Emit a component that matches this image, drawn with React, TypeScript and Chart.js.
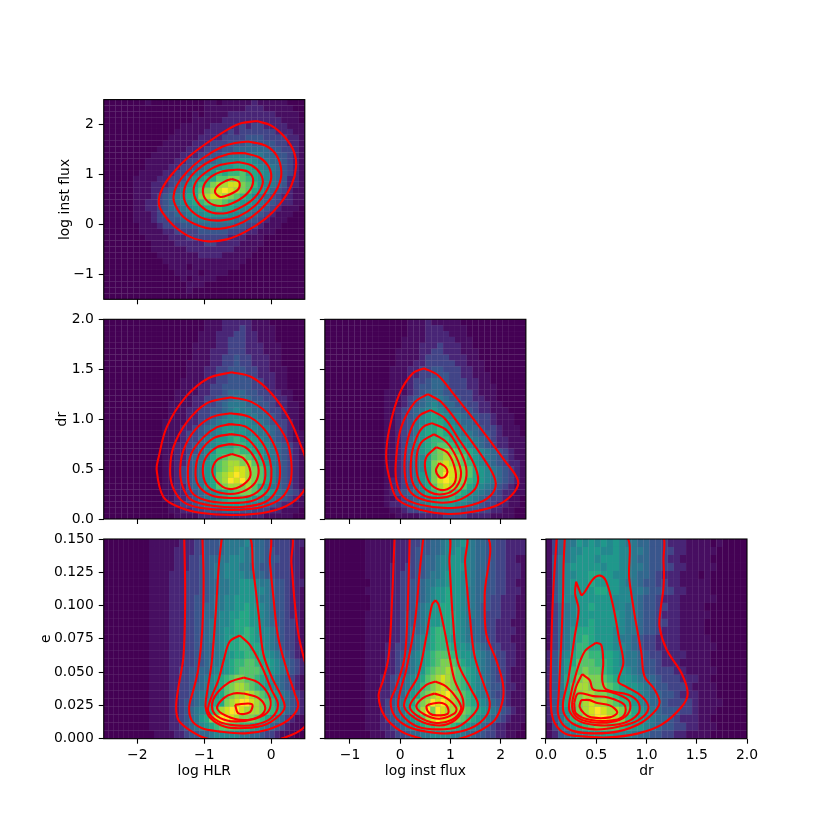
import React, { useEffect, useRef } from "react";
import { Chart, registerables } from "chart.js";

Chart.register(...registerables);

const hlrRange = [-2.5, 0.5];
const fluxRange = [-1.5, 2.5];
const drRange = [0, 2];
const eRange = [0, 0.15];

const hlrTicks = [-2, -1, 0];
const hlrLabels = ["\u22122", "\u22121", "0"];
const fluxXTicks = [-1, 0, 1, 2];
const fluxXLabels = ["\u22121", "0", "1", "2"];
const fluxYTicks = [-1, 0, 1, 2];
const fluxYLabels = ["\u22121", "0", "1", "2"];
const drTicks = [0, 0.5, 1, 1.5, 2];
const drLabels = ["0.0", "0.5", "1.0", "1.5", "2.0"];
const eTicks = [0, 0.025, 0.05, 0.075, 0.1, 0.125, 0.15];
const eLabels = ["0.000", "0.025", "0.050", "0.075", "0.100", "0.125", "0.150"];

const viridis = ["#440154", "#470e61", "#482576", "#414487", "#39568c", "#31688e", "#2a788e", "#23888e", "#1f988b", "#22a884", "#35b779", "#54c568", "#7ad151", "#a5db36", "#d2e21b", "#fde725"];

// Heat levels 0-f, first row is the top of the panel
const hlrFluxHeat = [
  "0000000100000000011011111211111000",
  "0000000000000000011111112221111100",
  "0000000000000001011112222222211110",
  "0000000000000001111122222222221110",
  "0000000000000111112222232332222111",
  "0000000000001111122223233333322211",
  "0000000000011111222233334443333221",
  "0000000000111112223334445444433221",
  "0000000001111122233344555555443321",
  "0000000011111222334456666665544321",
  "0000000111112233445677788766554321",
  "0000000111122334567788999876654321",
  "0000001111223346678a9aab9987654321",
  "0000011112233467899bbccba987654221",
  "0000011122234578aacddeecba87654221",
  "0000011122345689bcdefedcb987543211",
  "0000011123456799cdeedcba9765432211",
  "0000011223456789abccba988765432211",
  "0000011223455678899a99877654321110",
  "0000011123445567788887766543211100",
  "0000011123344556666666554432111000",
  "0000001112333444555555443321110000",
  "0000001111223333444443332211100000",
  "0000000111122233333332221110000000",
  "0000000011112222233222211110000000",
  "0000000011111122222222111100000000",
  "0000000001111111222211111000000000",
  "0000000000111111111111110000000000",
  "0000000000011101111111100000000000",
  "0000000000001111011110000000000000",
  "0000000000000101111000000000000000",
  "0000000000000011100000000000000000",
  "0000000000000010000000000000000000",
  "0000000000000000000000000000000000",
];
const hlrDrHeat = [
  "0000000000000000011122222111000000",
  "0000000000000000011122232111100000",
  "0000000000000000111222332211100000",
  "0000000000000000111223332211100000",
  "0000000000000001111223332221110000",
  "0000000000000001112223332221110000",
  "0000000000000001112233433222110000",
  "0000000000000011112233433222110000",
  "0000000000000011122334443322111000",
  "0000000000000011122334443322211000",
  "0000000000000111122334444332211000",
  "0000000000000111223344444332211000",
  "0000000000001111223345554433221100",
  "0000000000001112233445655443322100",
  "0000000000011112233456665544322110",
  "0000000000011122334456766554332110",
  "0000000000011122334567776655432110",
  "0000000000111122345677877665433210",
  "0000000000111223456788887766543210",
  "0000000000111233456789887766543211",
  "0000000000111233567889a98876543211",
  "0000000000112234567899aa9887654321",
  "0000000000112234578aaabaa987654321",
  "0000000000112245679abcccba97654321",
  "0000000000112245689bcddcdba8654321",
  "0000000000112345689bcdeedcb9754321",
  "0000000000112345689cdefedcb9754321",
  "0000000000112345689cdfefdcb9754321",
  "0000000000112245689bcddcdb98654321",
  "000000000011223456789abccba9865432",
  "000000000011223456789aaa9887654321",
  "0000000000012334567888887765432211",
  "0000000000011223344455544333221110",
  "0000000000001111222222222221111100",
];
const fluxDrHeat = [
  "0000000000000011121111100000000000",
  "0000000000000011122211110000000000",
  "0000000000000011122221110000000000",
  "0000000000000111122222111000000000",
  "0000000000000111222322211000000000",
  "0000000000001111223322211100000000",
  "0000000000001111233332221100000000",
  "0000000000001112233333221110000000",
  "0000000000011122334433322110000000",
  "0000000000011122334443322111000000",
  "0000000000011123345543332211000000",
  "0000000000011123445543332211100000",
  "0000000000111123455544333211100000",
  "0000000000111234566654433221100000",
  "0000000000111234567655443322110000",
  "0000000000112345678765544322111000",
  "0000000000112345789876654433211100",
  "0000000000112346789987655433211100",
  "0000000000112346899a88765543321110",
  "0000000000112346899a98766544321110",
  "000000000011235789aaa9877654322111",
  "000000000011235789abba987654322111",
  "000000000011235689bcdcba9876543211",
  "000000000011235679bcddcb9876543211",
  "000000000011234679cdedcba876543221",
  "000000000011234679cdeedcb987654321",
  "000000000011234689cdfedcb987654321",
  "000000000012234689cefedca987654321",
  "000000000012234679bdedcb9876543211",
  "000000000012345679abcba98765432211",
  "000000000011234567899a987654332110",
  "0000000000122345678888776543322110",
  "0000000000011233445555544433221100",
  "0000000000001111222233332222111100",
];
const hlrEHeat = [
  "0000000001111112223344456666755543333222",
  "0000000001111122223344456667665544333221",
  "0000000001111122233445566777665544433221",
  "0000000001111122233445667776655444333221",
  "0000000001111222333445667777665544333221",
  "0000000001111222333445566778887665443222",
  "0000000001111222333445566778887765443221",
  "0000000001111222334445667788887665443221",
  "0000000001111222334455667788988765443221",
  "0000000001111222334455677889988765443221",
  "0000000001111222334456677899988765443321",
  "0000000001111222334456678899a98776543321",
  "000000000111122233445667899aa98776543321",
  "000000000111122233445567899aa99876543321",
  "0000000001111222334455678899aa9987654321",
  "00000000011112223344566789aabba998765432",
  "00000000011112233445567789abbbba98765432",
  "000000000111122334456789abccbba987654321",
  "000000000111122334556789bcddcba987654321",
  "000000000111122334566789bcddedcba9865432",
  "000000000111122344567899cdeffedcba875432",
  "0000000001111223456779bdeffedddcba975432",
  "000000000111122345689ceffedcccba98653211",
  "0000000001111223456789abbbbaa98765432110",
  "0000000000111122344556777776655433211100",
];
const fluxEHeat = [
  "0000000011111122233445567778765544332222",
  "0000000011111122234445567787765544332222",
  "0000000011111122234455677887765544332211",
  "0000000011111222334455677888765544332221",
  "0000000011111223334456678887765544332221",
  "0000000001111223344566778887765544332211",
  "0000000011111223344567889887665544332221",
  "0000000001111223344567889887665543322211",
  "0000000001111223345678899887665443322211",
  "0000000011111223445678899987665433322211",
  "0000000011111223445678899987655433222111",
  "0000000011111223455679aa9987655433222211",
  "0000000011111223456789aa9887655433222111",
  "0000000011112233456789aaa988766543322211",
  "000000001111223456789abbba98877654332211",
  "000000001111223456789abccba9887654332211",
  "00000000111122345678abccdcba987654332111",
  "00000000111223456789bcdedcba987654332111",
  "0000000011122345678abcdedcba987654432211",
  "0000000011122345789bcdeefdcba97654332111",
  "000000001112345689bcdfefedcba98765432111",
  "00000000111234568abdfcfedddcba9876543211",
  "0000000011123456789bdefeedcba98765432111",
  "00000000111223456789aabbba98876543221110",
  "0000000001112233455667777666554433221100",
];
const drEHeat = [
  "135668787878766554432221111010000",
  "135677888778776654433221111100000",
  "146678887888776554432211111000000",
  "146788888788776654433221111100000",
  "146778899887776554322211101000000",
  "146788898888766544332211111000000",
  "146788889988776654433221111000000",
  "146778888887776544322211111100000",
  "135678898887766544332211110000000",
  "135678888888766544322211111000000",
  "135678898888766544332211110000000",
  "135689998887766544322211110000000",
  "135689a98887665433222211111000000",
  "13568aa99887765433222211111100000",
  "24679abaa998766543322221111000000",
  "24689bbbaa98766544322211111000000",
  "2468abcbba98876544333221111100000",
  "2469acdccba9887655433322211000000",
  "2469bddcccba988765443332111100000",
  "2469bcddccba998765544322211100000",
  "2469bcdeddcbaa8765543333211110000",
  "2468acdefeddcb9876544433211100000",
  "2468abdeffedca9876554322211000000",
  "136789abccbba98876544332211100000",
  "124567788887776554433221111000000",
];

const hlrFluxContours = [
  [[-0.22,2.07],[0,1.98],[0.2,1.75],[0.34,1.45],[0.37,1.15],[0.3,0.78],[0.13,0.41],[-0.09,0.11],[-0.39,-0.15],[-0.665,-0.3],[-0.94,-0.34],[-1.21,-0.25],[-1.46,-0.02],[-1.63,0.25],[-1.68,0.45],[-1.63,0.71],[-1.48,1.01],[-1.235,1.35],[-0.94,1.65],[-0.64,1.91],[-0.44,2.03]],
  [[-0.35,1.66],[-0.09,1.58],[0.08,1.38],[0.15,1.05],[0.1,0.75],[-0.05,0.45],[-0.29,0.15],[-0.54,-0.02],[-0.84,-0.09],[-1.09,-0.02],[-1.31,0.15],[-1.43,0.38],[-1.46,0.55],[-1.41,0.78],[-1.26,1.05],[-1.04,1.31],[-0.74,1.55],[-0.54,1.63]],
  [[-0.41,1.43],[-0.19,1.35],[-0.05,1.18],[0,0.95],[-0.07,0.68],[-0.24,0.38],[-0.49,0.16],[-0.74,0.08],[-0.99,0.11],[-1.19,0.27],[-1.3,0.51],[-1.28,0.78],[-1.14,1.05],[-0.91,1.27],[-0.64,1.41]],
  [[-0.49,1.25],[-0.29,1.18],[-0.16,1.01],[-0.13,0.81],[-0.24,0.55],[-0.44,0.35],[-0.665,0.23],[-0.89,0.24],[-1.06,0.38],[-1.15,0.58],[-1.14,0.81],[-1.01,1.01],[-0.79,1.18]],
  [[-0.49,1.1],[-0.34,1.05],[-0.27,0.88],[-0.34,0.65],[-0.54,0.45],[-0.76,0.37],[-0.94,0.45],[-1.02,0.65],[-0.96,0.88],[-0.76,1.05]],
  [[-0.59,0.91],[-0.48,0.85],[-0.49,0.71],[-0.64,0.59],[-0.76,0.55],[-0.84,0.65],[-0.79,0.78],[-0.665,0.88]],
];
const hlrDrContours = [
  [[-0.59,1.47],[-0.29,1.42],[0,1.26],[0.28,0.99],[0.45,0.72],[0.51,0.61],[0.55,0.46],[0.51,0.31],[0.3,0.16],[-0.05,0.07],[-0.54,0.04],[-1.04,0.06],[-1.38,0.12],[-1.61,0.22],[-1.71,0.49],[-1.68,0.62],[-1.56,0.92],[-1.28,1.22],[-0.94,1.41]],
  [[-0.6,1.22],[-0.29,1.17],[0,1.02],[0.23,0.79],[0.3,0.56],[0.28,0.36],[0.15,0.21],[-0.14,0.12],[-0.59,0.09],[-1.04,0.11],[-1.31,0.17],[-1.47,0.32],[-1.51,0.49],[-1.46,0.72],[-1.26,0.97],[-0.96,1.16]],
  [[-0.61,1.06],[-0.32,1.02],[-0.07,0.87],[0.09,0.66],[0.13,0.46],[0.08,0.29],[-0.09,0.17],[-0.44,0.12],[-0.84,0.13],[-1.19,0.19],[-1.32,0.32],[-1.36,0.49],[-1.31,0.69],[-1.14,0.89],[-0.89,1.02]],
  [[-0.615,0.95],[-0.37,0.92],[-0.14,0.77],[-0.02,0.59],[0,0.41],[-0.07,0.27],[-0.29,0.18],[-0.64,0.16],[-0.99,0.19],[-1.19,0.27],[-1.245,0.46],[-1.19,0.66],[-1.01,0.82],[-0.81,0.92]],
  [[-0.61,0.85],[-0.39,0.82],[-0.19,0.67],[-0.09,0.49],[-0.14,0.32],[-0.32,0.23],[-0.615,0.21],[-0.91,0.24],[-1.09,0.34],[-1.13,0.49],[-1.06,0.67],[-0.86,0.81]],
  [[-0.61,0.75],[-0.39,0.72],[-0.23,0.59],[-0.19,0.46],[-0.27,0.34],[-0.49,0.26],[-0.74,0.26],[-0.94,0.32],[-1.02,0.46],[-0.98,0.61],[-0.81,0.72]],
  [[-0.59,0.65],[-0.42,0.61],[-0.31,0.47],[-0.37,0.37],[-0.58,0.3],[-0.76,0.34],[-0.88,0.47],[-0.81,0.59]],
];
const fluxDrContours = [
  [[0.47,1.51],[0.75,1.44],[1.08,1.24],[1.55,0.94],[2.07,0.59],[2.34,0.39],[2.27,0.27],[1.94,0.14],[1.41,0.07],[0.95,0.05],[0.42,0.09],[-0.04,0.19],[-0.19,0.36],[-0.28,0.62],[-0.21,0.92],[-0.01,1.26],[0.25,1.46]],
  [[0.55,1.25],[0.82,1.17],[1.21,0.92],[1.68,0.59],[1.89,0.39],[1.84,0.26],[1.55,0.16],[1.02,0.11],[0.42,0.14],[0.06,0.22],[-0.08,0.39],[-0.08,0.62],[0.02,0.92],[0.29,1.17]],
  [[0.6,1.09],[0.88,1.01],[1.15,0.81],[1.45,0.57],[1.55,0.39],[1.41,0.26],[1.02,0.17],[0.55,0.18],[0.22,0.26],[0.1,0.42],[0.1,0.66],[0.22,0.91],[0.39,1.04]],
  [[0.63,0.96],[0.92,0.89],[1.15,0.72],[1.31,0.52],[1.28,0.36],[1.08,0.25],[0.75,0.21],[0.42,0.25],[0.23,0.39],[0.22,0.62],[0.32,0.81],[0.45,0.92]],
  [[0.67,0.85],[0.92,0.77],[1.115,0.62],[1.21,0.46],[1.115,0.32],[0.88,0.25],[0.585,0.27],[0.37,0.39],[0.32,0.59],[0.41,0.76]],
  [[0.72,0.72],[0.95,0.66],[1.095,0.49],[1.08,0.36],[0.88,0.29],[0.62,0.34],[0.5,0.49],[0.52,0.62]],
  [[0.78,0.56],[0.9,0.52],[0.94,0.47],[0.88,0.42],[0.78,0.42],[0.71,0.49]],
];
const hlrEContours = [
  [[-1.3,0.154],[-1.285,0.107],[-1.31,0.062],[-1.385,0.039],[-1.42,0.024],[-1.385,0.014],[-1.235,0.007],[-0.99,0.0005],[-0.39,-0.006],[0.18,0.0005],[0.5,0.009],[0.65,0.027],[0.55,0.05],[0.5,0.058],[0.41,0.077],[0.35,0.102],[0.3,0.132],[0.26,0.154]],
  [[-1.03,0.154],[-1.01,0.119],[-1.03,0.082],[-1.09,0.052],[-1.16,0.037],[-1.225,0.024],[-1.19,0.014],[-1.04,0.008],[-0.79,0.0055],[-0.39,0.004],[-0.045,0.007],[0.25,0.014],[0.4,0.024],[0.35,0.034],[0.23,0.052],[0.1,0.077],[0.03,0.107],[-0.02,0.132],[-0.055,0.154]],
  [[-0.73,0.154],[-0.78,0.132],[-0.83,0.094],[-0.89,0.057],[-0.96,0.034],[-0.98,0.024],[-0.91,0.0155],[-0.69,0.009],[-0.39,0.008],[-0.09,0.0105],[0.13,0.018],[0.2,0.024],[0.15,0.032],[0,0.047],[-0.12,0.064],[-0.19,0.094],[-0.27,0.127],[-0.35,0.154]],
  [[-0.47,0.0775],[-0.32,0.0705],[-0.14,0.054],[0,0.037],[0.1,0.0255],[0,0.0155],[-0.24,0.0105],[-0.54,0.01],[-0.79,0.013],[-0.94,0.0205],[-0.91,0.029],[-0.79,0.044],[-0.71,0.059],[-0.62,0.073]],
  [[-0.41,0.046],[-0.19,0.042],[-0.02,0.0305],[-0.045,0.0205],[-0.24,0.015],[-0.54,0.013],[-0.76,0.0155],[-0.88,0.022],[-0.84,0.032],[-0.64,0.042]],
  [[-0.41,0.034],[-0.19,0.0305],[-0.09,0.023],[-0.17,0.017],[-0.42,0.014],[-0.665,0.017],[-0.81,0.023],[-0.71,0.0305],[-0.565,0.034]],
  [[-0.54,0.0255],[-0.29,0.026],[-0.32,0.02],[-0.49,0.019]],
];
const fluxEContours = [
  [[-0.11,0.154],[-0.16,0.107],[-0.23,0.062],[-0.34,0.044],[-0.43,0.032],[-0.31,0.017],[0.02,0.0055],[0.42,0],[0.75,-0.003],[1.08,-0.001],[1.48,0.004],[1.88,0.014],[2.04,0.029],[2.04,0.042],[1.91,0.059],[1.71,0.079],[1.68,0.107],[1.68,0.154]],
  [[0.19,0.154],[0.155,0.107],[0.09,0.062],[-0.08,0.039],[-0.19,0.028],[-0.11,0.017],[0.155,0.009],[0.49,0.0055],[0.95,0.004],[1.41,0.008],[1.71,0.017],[1.78,0.027],[1.68,0.039],[1.48,0.062],[1.38,0.094],[1.29,0.132],[1.28,0.154]],
  [[0.47,0.154],[0.39,0.127],[0.29,0.087],[0.12,0.052],[-0.01,0.034],[-0.04,0.024],[0.09,0.0155],[0.35,0.009],[0.75,0.007],[1.15,0.009],[1.45,0.018],[1.55,0.0255],[1.41,0.037],[1.15,0.057],[1.05,0.089],[0.98,0.132],[0.95,0.154]],
  [[0.7,0.104],[0.76,0.101],[0.85,0.087],[0.98,0.062],[1.08,0.044],[1.25,0.029],[1.21,0.019],[0.95,0.011],[0.62,0.0105],[0.29,0.0155],[0.08,0.024],[0.155,0.034],[0.35,0.047],[0.52,0.077],[0.63,0.1005]],
  [[0.7,0.043],[0.92,0.039],[1.15,0.029],[1.21,0.022],[1.02,0.014],[0.68,0.012],[0.35,0.017],[0.19,0.024],[0.35,0.034],[0.52,0.0405]],
  [[0.68,0.034],[0.92,0.0305],[1.115,0.023],[1.08,0.019],[0.78,0.015],[0.49,0.018],[0.32,0.024],[0.45,0.0305]],
  [[0.585,0.026],[0.78,0.027],[0.92,0.025],[0.95,0.019],[0.72,0.0175],[0.585,0.019],[0.52,0.024]],
];
const drEContours = [
  [[0.11,0.154],[0.07,0.107],[0.05,0.057],[0.05,0.024],[0.086,0.012],[0.186,0.004],[0.32,0.002],[0.62,0.001],[0.92,0.004],[1.15,0.0105],[1.35,0.024],[1.41,0.034],[1.35,0.049],[1.2,0.067],[1.13,0.084],[1.14,0.097],[1.17,0.114],[1.17,0.132],[1.13,0.154]],
  [[0.19,0.154],[0.176,0.132],[0.17,0.107],[0.15,0.069],[0.126,0.032],[0.12,0.019],[0.17,0.0105],[0.286,0.0055],[0.485,0.004],[0.72,0.0055],[0.95,0.012],[1.1,0.022],[1.13,0.028],[1.08,0.037],[0.98,0.047],[0.95,0.064],[0.88,0.094],[0.83,0.119],[0.78,0.154]],
  [[0.3,0.118],[0.33,0.112],[0.36,0.108],[0.47,0.12],[0.54,0.1225],[0.6,0.118],[0.67,0.099],[0.73,0.074],[0.77,0.057],[0.72,0.043],[0.8,0.039],[0.95,0.032],[1.02,0.023],[0.92,0.014],[0.72,0.009],[0.485,0.007],[0.286,0.0105],[0.186,0.018],[0.17,0.027],[0.22,0.044],[0.286,0.077],[0.325,0.097],[0.29,0.109]],
  [[0.495,0.072],[0.55,0.0705],[0.57,0.057],[0.56,0.044],[0.6,0.037],[0.82,0.033],[0.92,0.027],[0.92,0.019],[0.78,0.012],[0.55,0.01],[0.335,0.013],[0.236,0.0205],[0.236,0.029],[0.3,0.049],[0.385,0.0655]],
  [[0.36,0.0485],[0.435,0.044],[0.47,0.037],[0.62,0.0355],[0.82,0.029],[0.83,0.0205],[0.73,0.014],[0.52,0.012],[0.32,0.0155],[0.26,0.024],[0.3,0.039]],
  [[0.28,0.027],[0.32,0.034],[0.47,0.032],[0.62,0.031],[0.78,0.0255],[0.78,0.018],[0.68,0.014],[0.45,0.014],[0.3,0.019]],
  [[0.35,0.029],[0.435,0.029],[0.5,0.027],[0.635,0.025],[0.71,0.0198],[0.635,0.016],[0.45,0.016],[0.38,0.019],[0.335,0.024]],
];

type Panel = {
  heat: string[]; contours: number[][][];
  xr: number[]; yr: number[];
  xt: number[]; xl: string[] | null; xTitle?: string;
  yt: number[]; yl: string[] | null; yTitle?: string;
  L: number; R: number; T: number; B: number; cl: number; cb: number;
};

const colL = [103.75, 324.85, 545.95];
const colR = [304.8, 525.9, 747];
const rowT = [99.6, 319.3, 539];
const rowB = [299.3, 519, 738.7];

const panels: Panel[] = [
  { heat: hlrFluxHeat, contours: hlrFluxContours, xr: hlrRange, yr: fluxRange, xt: hlrTicks, xl: null, yt: fluxYTicks, yl: fluxYLabels, yTitle: "log inst flux", L: colL[0], R: colR[0], T: rowT[0], B: rowB[0], cl: 58, cb: 308 },
  { heat: hlrDrHeat, contours: hlrDrContours, xr: hlrRange, yr: drRange, xt: hlrTicks, xl: null, yt: drTicks, yl: drLabels, yTitle: "dr", L: colL[0], R: colR[0], T: rowT[1], B: rowB[1], cl: 55, cb: 528 },
  { heat: fluxDrHeat, contours: fluxDrContours, xr: fluxRange, yr: drRange, xt: fluxXTicks, xl: null, yt: drTicks, yl: null, L: colL[1], R: colR[1], T: rowT[1], B: rowB[1], cl: 315, cb: 528 },
  { heat: hlrEHeat, contours: hlrEContours, xr: hlrRange, yr: eRange, xt: hlrTicks, xl: hlrLabels, xTitle: "log HLR", yt: eTicks, yl: eLabels, yTitle: "e", L: colL[0], R: colR[0], T: rowT[2], B: rowB[2], cl: 39, cb: 778 },
  { heat: fluxEHeat, contours: fluxEContours, xr: fluxRange, yr: eRange, xt: fluxXTicks, xl: fluxXLabels, xTitle: "log inst flux", yt: eTicks, yl: null, L: colL[1], R: colR[1], T: rowT[2], B: rowB[2], cl: 315, cb: 778 },
  { heat: drEHeat, contours: drEContours, xr: drRange, yr: eRange, xt: drTicks, xl: drLabels, xTitle: "dr", yt: eTicks, yl: null, L: colL[2], R: colR[2], T: rowT[2], B: rowB[2], cl: 536, cb: 778 },
];

const font = { family: "'DejaVu Sans'", size: 13.9, lineHeight: "14px" };
const rightRoom = 16;

const heatPlugin = {
  id: "heat",
  beforeDatasetsDraw(chart: any, _a: any, opts: any) {
    const { ctx, scales, chartArea: area } = chart;
    const rows: string[] = opts.rows;
    const [x0, x1] = opts.xr;
    const [y0, y1] = opts.yr;
    ctx.fillStyle = "#a090b0";
    ctx.fillRect(area.left, area.top, area.right - area.left, area.bottom - area.top);
    rows.forEach((row, r) => {
      const top = y1 - ((y1 - y0) * r) / rows.length;
      const bot = y1 - ((y1 - y0) * (r + 1)) / rows.length;
      for (let c = 0; c < row.length; c++) {
        const a = scales.x.getPixelForValue(x0 + ((x1 - x0) * c) / row.length);
        const b = scales.x.getPixelForValue(x0 + ((x1 - x0) * (c + 1)) / row.length);
        const py = scales.y.getPixelForValue(top);
        const qy = scales.y.getPixelForValue(bot);
        ctx.fillStyle = viridis[parseInt(row[c], 16)];
        ctx.fillRect(a, py, b - a, qy - py);
      }
    });
  },
};

const framePlugin = {
  id: "frame",
  afterDraw(chart: any) {
    const { ctx, chartArea: a } = chart;
    ctx.save();
    ctx.strokeStyle = "#000";
    ctx.lineWidth = 1.1;
    ctx.strokeRect(a.left, a.top, a.right - a.left, a.bottom - a.top);
    ctx.restore();
  },
};

function makeScale(p: Panel, horizontal: boolean) {
  const range = horizontal ? p.xr : p.yr;
  const ticks = horizontal ? p.xt : p.yt;
  const labels = horizontal ? p.xl : p.yl;
  const title = horizontal ? p.xTitle : p.yTitle;
  return {
    type: "linear",
    position: horizontal ? "bottom" : "left",
    min: range[0],
    max: range[1],
    afterBuildTicks: (s: any) => {
      s.ticks = ticks.map((value) => ({ value }));
    },
    afterFit: (s: any) => {
      if (horizontal) s.height = p.cb - p.B;
      else s.width = p.L - p.cl;
      s.paddingLeft = 0;
      s.paddingRight = 0;
      s.paddingTop = 0;
      s.paddingBottom = 0;
    },
    ticks: {
      display: !!labels,
      autoSkip: false,
      maxRotation: 0,
      minRotation: 0,
      padding: 5,
      color: "#000",
      font,
      callback: (_v: any, i: number) => (labels ? labels[i] : ""),
    },
    grid: { display: true, drawOnChartArea: false, drawTicks: true, tickLength: 5, tickWidth: 1.1, tickColor: "#000", color: "#000" },
    border: { display: false },
    title: { display: !!title, text: title || "", color: "#000", font, padding: 0 },
  };
}

export default function App() {
  const refs = useRef<(HTMLCanvasElement | null)[]>([]);
  useEffect(() => {
    const charts = panels.map((p, i) => {
      const canvas = refs.current[i] as HTMLCanvasElement;
      const right = Math.ceil(p.R) + rightRoom;
      const top = Math.floor(p.T) - 6;
      return new Chart(canvas, {
        type: "scatter",
        data: {
          datasets: p.contours.map((c) => ({
            data: [...c, c[0]].map(([x, y]) => ({ x, y })),
            showLine: true,
            pointRadius: 0,
            borderColor: "#ff0000",
            borderWidth: 2.1,
            tension: 0.35,
            fill: false,
          })),
        },
        options: {
          animation: false,
          responsive: false,
          devicePixelRatio: 1,
          events: [],
          layout: { padding: { left: 0, bottom: 0, right: right - p.R, top: p.T - top } },
          scales: { x: makeScale(p, true), y: makeScale(p, false) },
          plugins: {
            legend: { display: false },
            tooltip: { enabled: false },
            heat: { rows: p.heat, xr: p.xr, yr: p.yr },
          },
        } as any,
        plugins: [heatPlugin, framePlugin],
      } as any);
    });
    return () => charts.forEach((c) => c.destroy());
  }, []);
  return (
    <div style={{ position: "absolute", left: 0, top: 0, width: 830, height: 830, background: "#fff", overflow: "hidden" }}>
      {panels.map((p, i) => {
        const right = Math.ceil(p.R) + rightRoom;
        const top = Math.floor(p.T) - 6;
        return (
          <canvas
            key={i}
            ref={(el) => {
              refs.current[i] = el;
            }}
            width={right - p.cl}
            height={p.cb - top}
            style={{ position: "absolute", left: p.cl, top, width: right - p.cl, height: p.cb - top, display: "block" }}
          />
        );
      })}
    </div>
  );
}
